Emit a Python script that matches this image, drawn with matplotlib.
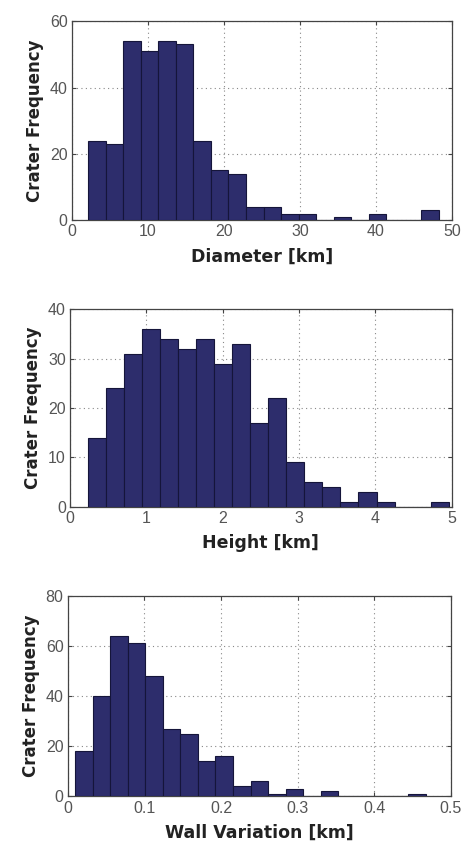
import matplotlib
matplotlib.use("Agg")
import matplotlib.pyplot as plt
import numpy as np

# histogram counts (20 bins each)
diameter_counts = [24, 23, 54, 51, 54, 53, 24, 15, 14, 4, 4, 2, 2, 0, 1, 0, 2, 0, 0, 3]
diameter_range = (2.15, 48.3)

height_counts = [14, 24, 31, 36, 34, 32, 34, 29, 33, 17, 22, 9, 5, 4, 1, 3, 1, 0, 0, 1]
height_range = (0.23, 4.96)

wall_counts = [18, 40, 64, 61, 48, 27, 25, 14, 16, 4, 6, 1, 3, 0, 2, 0, 0, 0, 0, 1]
wall_range = (0.01, 0.467)

panels = [
    (diameter_counts, diameter_range, 'Diameter [km]', [0, 10, 20, 30, 40, 50], [0, 20, 40, 60]),
    (height_counts, height_range, 'Height [km]', [0, 1, 2, 3, 4, 5], [0, 10, 20, 30, 40]),
    (wall_counts, wall_range, 'Wall Variation [km]', [0, 0.1, 0.2, 0.3, 0.4, 0.5], [0, 20, 40, 60, 80]),
]

# axes boxes in figure fraction [left, bottom, width, height]
boxes = [
    [0.156, 0.741, 0.824, 0.234],
    [0.152, 0.404, 0.828, 0.232],
    [0.147, 0.063, 0.831, 0.236],
]

bar_color = '#2d2d6c'
tick_color = '#555555'

fig = plt.figure(figsize=(4.61, 8.5), dpi=100)

for (counts, rng, xlabel, xticks, yticks), box in zip(panels, boxes):
    ax = fig.add_axes(box)
    edges = np.linspace(rng[0], rng[1], len(counts) + 1)
    ax.bar(edges[:-1], counts, width=np.diff(edges), align='edge',
           color=bar_color, edgecolor='#15153a', linewidth=0.8, zorder=3)
    ax.set_xlim(xticks[0], xticks[-1])
    ax.set_ylim(yticks[0], yticks[-1])
    ax.set_xticks(xticks)
    ax.set_yticks(yticks)
    ax.set_xticklabels([('%g' % t) for t in xticks])
    ax.grid(True, linestyle=(0, (1, 3)), color='#888888', linewidth=0.8, zorder=0)
    ax.tick_params(direction='in', length=3, colors='#444444', labelcolor=tick_color,
                   labelsize=11.5, top=True, right=True, pad=3)
    for lbl in ax.get_xticklabels() + ax.get_yticklabels():
        lbl.set_family('Liberation Sans')
    for s in ax.spines.values():
        s.set_color('#444444')
        s.set_linewidth(0.9)
    ax.set_xlabel(xlabel, fontsize=12.5, fontweight='bold', color='#222222', labelpad=6)
    ax.set_ylabel('Crater Frequency', fontsize=12, fontweight='bold', color='#222222', labelpad=4)

fig.savefig('out.png', dpi=100)
